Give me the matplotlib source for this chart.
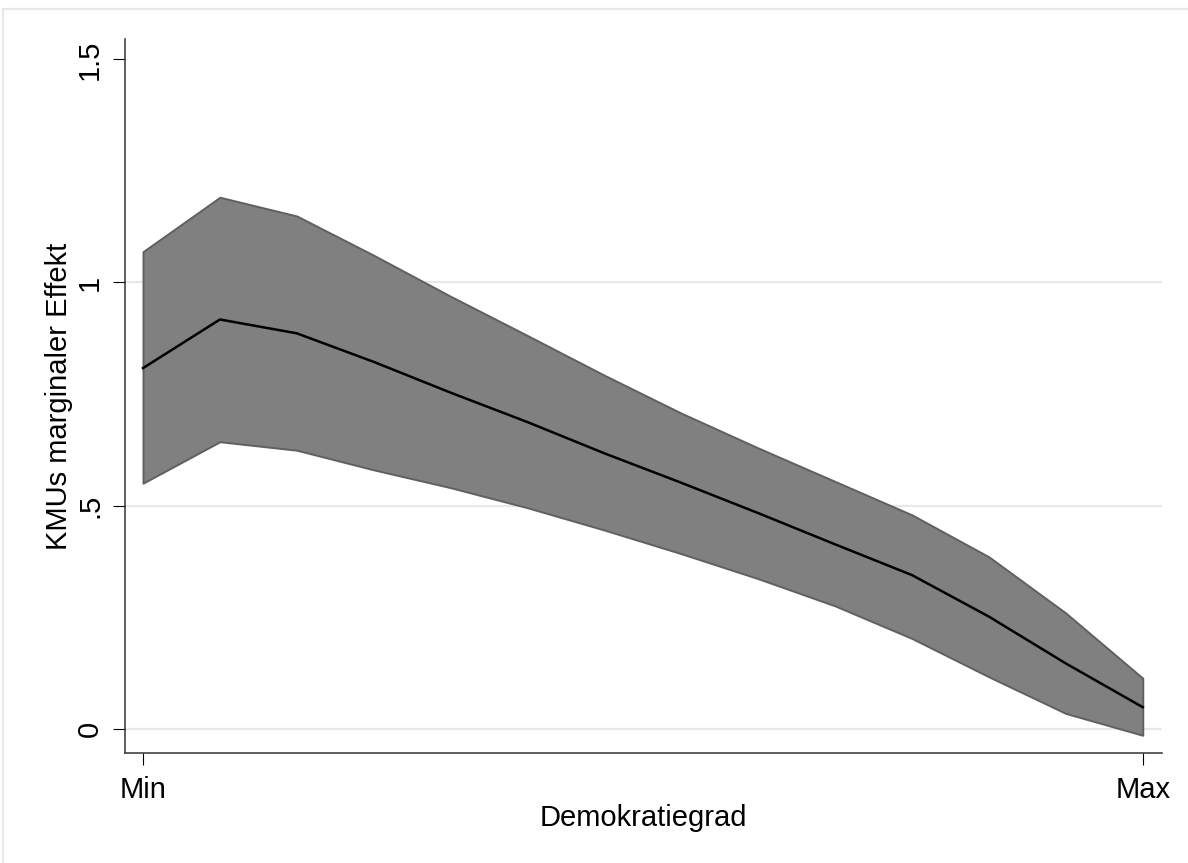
import matplotlib
matplotlib.use("Agg")
import matplotlib.pyplot as plt
from matplotlib.patches import Rectangle

plt.rcParams['font.family'] = ['Liberation Sans', 'DejaVu Sans']

# Punkte entlang des Demokratiegrads (Min ... Max)
grad = [0, 1, 2, 3, 4, 5, 6, 7, 8, 9, 10, 11, 12, 13]
effekt = [0.808, 0.917, 0.886, 0.822, 0.753, 0.687, 0.617,
          0.551, 0.483, 0.413, 0.344, 0.251, 0.146, 0.048]
ki_oben = [1.069, 1.191, 1.149, 1.061, 0.969, 0.881, 0.792,
           0.707, 0.629, 0.554, 0.479, 0.385, 0.259, 0.113]
ki_unten = [0.550, 0.643, 0.624, 0.580, 0.540, 0.495, 0.445,
            0.392, 0.336, 0.275, 0.202, 0.116, 0.034, -0.015]

x_ticks = [0, 13]
x_ticklabels = ['Min', 'Max']
y_ticks = [0, 0.5, 1, 1.5]
y_ticklabels = ['0', '.5', '1', '1.5']

fig = plt.figure(figsize=(11.88, 8.63), dpi=100)
fig.patch.set_facecolor('white')

# heller Rahmen um die Grafik
fig.patches.append(Rectangle((3 / 1188, -0.1), 1.2, (863 - 9) / 863 + 0.1,
                             transform=fig.transFigure, fill=False,
                             edgecolor='#e8e8e8', linewidth=1.6))

ax = fig.add_axes([125 / 1188, (863 - 752.7) / 863,
                   (1162 - 125) / 1188, (752.7 - 39.3) / 863])

# Gitterlinien (ohne oberste Marke)
for y in y_ticks[:-1]:
    ax.axhline(y, color='#e8e8e8', linewidth=1.6, zorder=0)

ax.fill_between(grad, ki_unten, ki_oben, facecolor='#808080',
                edgecolor='#606060', linewidth=1.4, zorder=2)
ax.plot(grad, effekt, color='black', linewidth=1.8, zorder=3)

ax.set_xlim(-0.234, 13.25)
ax.set_ylim(-0.054, 1.545)

ax.set_xticks(x_ticks)
ax.set_xticklabels(x_ticklabels)
ax.set_yticks(y_ticks)
ax.set_yticklabels(y_ticklabels, rotation=90, va='center')

ax.tick_params(axis='both', direction='out', length=8.6, width=0.8,
               labelsize=21, color='black')
ax.tick_params(axis='x', pad=8)
ax.tick_params(axis='y', pad=6.5)

for side in ['top', 'right']:
    ax.spines[side].set_visible(False)
for side in ['left', 'bottom']:
    ax.spines[side].set_color('#333333')
    ax.spines[side].set_linewidth(1.1)

ax.set_xlabel('Demokratiegrad', fontsize=21)
ax.set_ylabel('KMUs marginaler Effekt', fontsize=21)
ax.xaxis.set_label_coords(0.5, -0.072)
ax.yaxis.set_label_coords(-0.050, 0.5)

fig.savefig('out.png', dpi=100, facecolor='white')
